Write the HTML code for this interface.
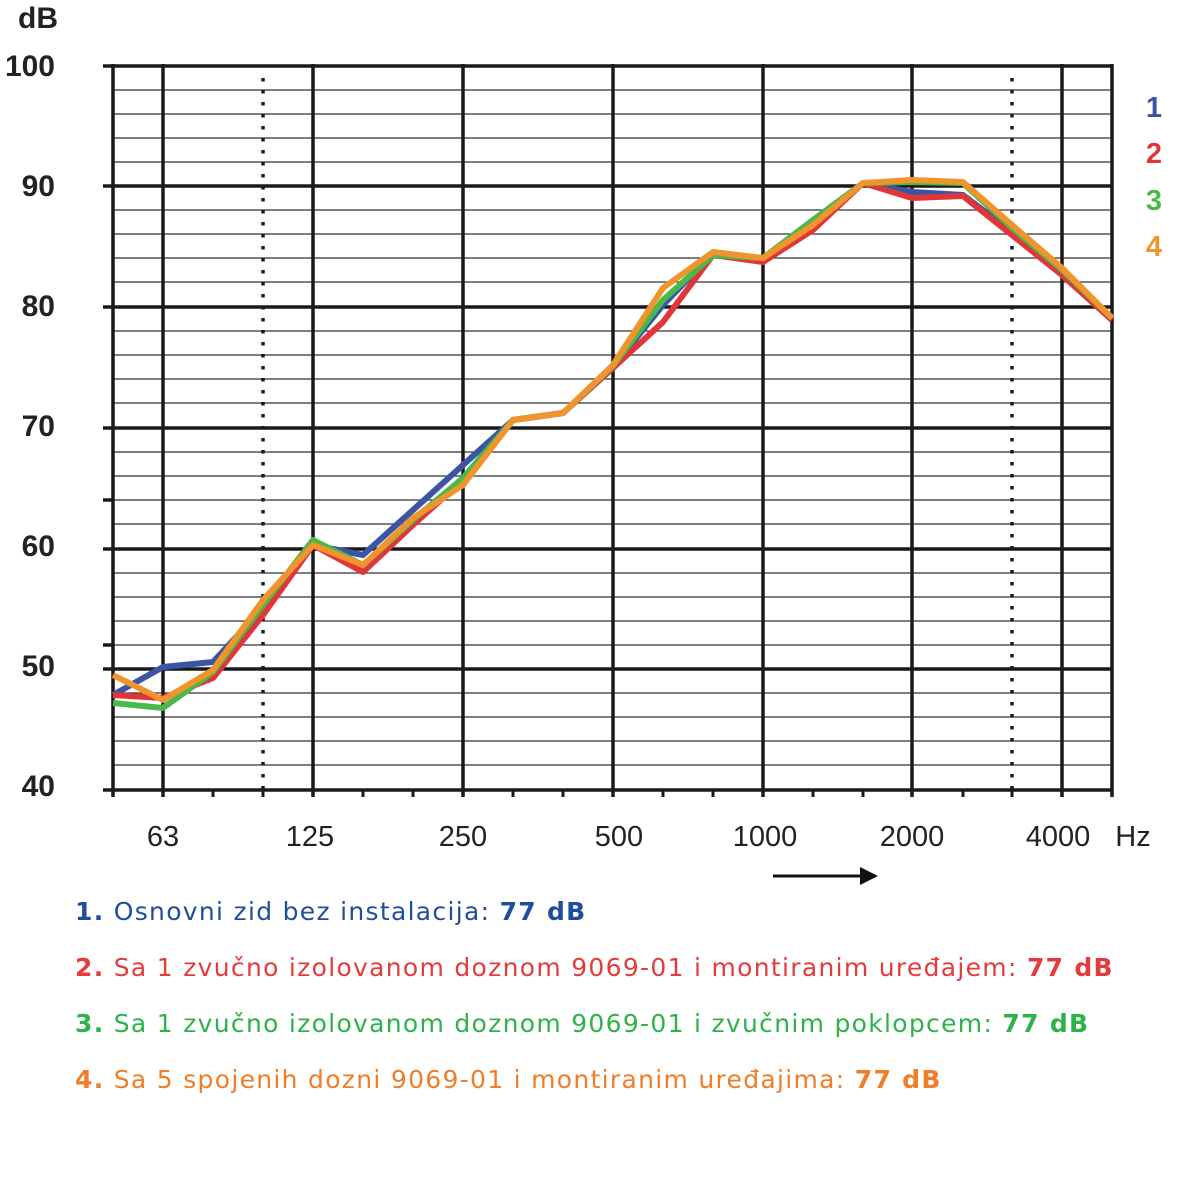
<!DOCTYPE html>
<html><head><meta charset="utf-8"><style>
body{margin:0;background:#fff;width:1200px;height:1200px;overflow:hidden}
.lg{position:absolute;left:75px;font-family:"DejaVu Sans",sans-serif;font-size:25px;letter-spacing:1.3px;white-space:nowrap}
</style></head><body>
<svg width="1200" height="1200" style="position:absolute;left:0;top:0" font-family="Liberation Sans, sans-serif">
<g stroke="#333" stroke-width="1.3">
<line x1="113" x2="1112" y1="90" y2="90"/><line x1="113" x2="1112" y1="114" y2="114"/><line x1="113" x2="1112" y1="138" y2="138"/><line x1="113" x2="1112" y1="162" y2="162"/>
<line x1="113" x2="1112" y1="210" y2="210"/><line x1="113" x2="1112" y1="234" y2="234"/><line x1="113" x2="1112" y1="258" y2="258"/><line x1="113" x2="1112" y1="282" y2="282"/>
<line x1="113" x2="1112" y1="331" y2="331"/><line x1="113" x2="1112" y1="355" y2="355"/><line x1="113" x2="1112" y1="379" y2="379"/><line x1="113" x2="1112" y1="403" y2="403"/>
<line x1="113" x2="1112" y1="452" y2="452"/><line x1="113" x2="1112" y1="476" y2="476"/><line x1="113" x2="1112" y1="500" y2="500"/><line x1="113" x2="1112" y1="524" y2="524"/>
<line x1="113" x2="1112" y1="573" y2="573"/><line x1="113" x2="1112" y1="597" y2="597"/><line x1="113" x2="1112" y1="621" y2="621"/><line x1="113" x2="1112" y1="645" y2="645"/>
<line x1="113" x2="1112" y1="693" y2="693"/><line x1="113" x2="1112" y1="717" y2="717"/><line x1="113" x2="1112" y1="741" y2="741"/><line x1="113" x2="1112" y1="765" y2="765"/>
</g>
<g stroke="#1a1a1a" stroke-width="3.5">
<line x1="103" x2="1112" y1="66" y2="66"/><line x1="103" x2="1112" y1="186" y2="186"/><line x1="103" x2="1112" y1="307" y2="307"/><line x1="103" x2="1112" y1="428" y2="428"/><line x1="103" x2="1112" y1="549" y2="549"/><line x1="103" x2="1112" y1="669" y2="669"/><line x1="103" x2="1112" y1="790" y2="790"/>
<line x1="103" x2="113" y1="500" y2="500"/><line x1="103" x2="113" y1="645" y2="645"/>
<line x1="113" x2="113" y1="64" y2="797"/><line x1="163" x2="163" y1="64" y2="797"/><line x1="313" x2="313" y1="64" y2="797"/><line x1="463" x2="463" y1="64" y2="797"/><line x1="613" x2="613" y1="64" y2="797"/><line x1="763" x2="763" y1="64" y2="797"/><line x1="912" x2="912" y1="64" y2="797"/><line x1="1062" x2="1062" y1="64" y2="797"/><line x1="1112" x2="1112" y1="64" y2="797"/>
</g>
<g stroke="#1a1a1a" stroke-width="3">
<line x1="213" x2="213" y1="790" y2="797"/><line x1="363" x2="363" y1="790" y2="797"/><line x1="413" x2="413" y1="790" y2="797"/><line x1="513" x2="513" y1="790" y2="797"/><line x1="563" x2="563" y1="790" y2="797"/><line x1="663" x2="663" y1="790" y2="797"/><line x1="713" x2="713" y1="790" y2="797"/><line x1="813" x2="813" y1="790" y2="797"/><line x1="863" x2="863" y1="790" y2="797"/><line x1="963" x2="963" y1="790" y2="797"/><line x1="263" x2="263" y1="790" y2="797"/><line x1="1012" x2="1012" y1="790" y2="797"/>
</g>
<g stroke="#1a1a1a" stroke-width="3.5" stroke-dasharray="3.5 8.5">
<line x1="263" x2="263" y1="78" y2="790"/><line x1="1012" x2="1012" y1="78" y2="790"/>
</g>
<g fill="none" stroke-width="6" stroke-linejoin="round">
<polyline stroke="#3a55a4" points="113,695 163,667 213,662 263,608 313,545 363,555 413,510 463,465 513,420 563,413 613,367 663,305 713,253 763,260 813,225 863,183 912,192 963,195 1012,232 1062,273 1112,318"/>
<polyline stroke="#e0363a" points="113,695 163,698 213,678 263,615 313,545 363,572 413,525 463,480 513,420 563,413 613,368 663,322 713,255 763,262 813,230 863,183 912,198 963,196 1012,235 1062,275 1112,320"/>
<polyline stroke="#4bb84a" points="113,703 163,708 213,672 263,605 313,540 363,565 413,520 463,478 513,420 563,413 613,366 663,300 713,255 763,258 813,220 863,183 912,182 963,183 1012,228 1062,270 1112,318"/>
<polyline stroke="#f0952e" points="113,675 163,700 213,670 263,600 313,545 363,565 413,518 463,485 513,420 563,413 613,365 663,288 713,252 763,258 813,225 863,183 912,180 963,182 1012,225 1062,268 1112,318"/>
</g>
<g font-weight="bold" font-size="30" fill="#222" text-anchor="end">
<text x="18" y="28" text-anchor="start">dB</text>
<text x="55" y="76">100</text><text x="55" y="196">90</text><text x="55" y="316">80</text><text x="55" y="436">70</text><text x="55" y="556">60</text><text x="55" y="676">50</text><text x="55" y="796">40</text>
</g>
<g font-size="29" fill="#222" text-anchor="middle">
<text x="163" y="846">63</text><text x="310" y="846">125</text><text x="463" y="846">250</text><text x="619" y="846">500</text><text x="765" y="846">1000</text><text x="912" y="846">2000</text><text x="1058" y="846">4000</text><text x="1133" y="846">Hz</text>
</g>
<line x1="773" x2="862" y1="876" y2="876" stroke="#111" stroke-width="3"/>
<polygon points="878,876 860,867 860,885" fill="#111"/>
<g font-weight="bold" font-size="29" text-anchor="middle">
<text x="1154" y="117" fill="#3a55a4">1</text><text x="1154" y="163" fill="#e0363a">2</text><text x="1154" y="210" fill="#4bb84a">3</text><text x="1154" y="256" fill="#f0952e">4</text>
</g>
</svg>
<div class="lg" style="top:897px;color:#1f4e9c"><b>1.</b> Osnovni zid bez instalacija: <b>77 dB</b></div>
<div class="lg" style="top:953px;color:#e63b3b"><b>2.</b> Sa 1 zvučno izolovanom doznom 9069-01 i montiranim uređajem: <b>77 dB</b></div>
<div class="lg" style="top:1009px;color:#2db34a"><b>3.</b> Sa 1 zvučno izolovanom doznom 9069-01 i zvučnim poklopcem: <b>77 dB</b></div>
<div class="lg" style="top:1065px;color:#f07d27"><b>4.</b> Sa 5 spojenih dozni 9069-01 i montiranim uređajima: <b>77 dB</b></div>
</body></html>
